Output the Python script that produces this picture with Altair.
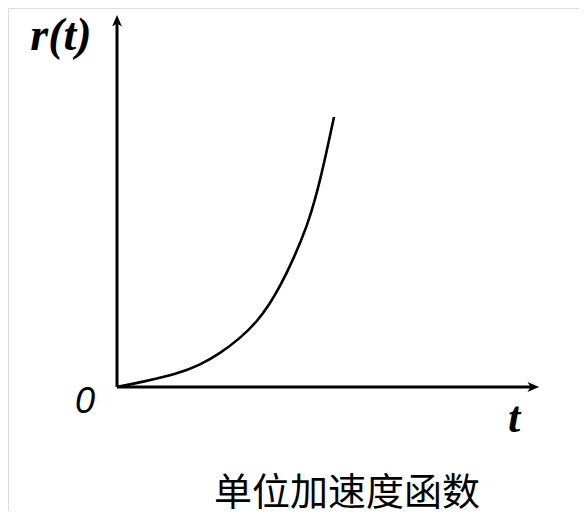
import altair as alt
import pandas as pd

# curve r(t) values (arbitrary units)
t_vals = [0.0, 0.65, 1.5, 2.075, 2.575, 3.075, 3.5, 3.825, 4.075, 4.4, 4.75, 5.0, 5.25, 5.425]
r_vals = [0.0, 0.13, 0.325, 0.55, 0.84, 1.215, 1.63, 2.09, 2.51, 3.175, 4.01, 4.84, 5.925, 6.75]

t_axis_end = 10.4
r_axis_end = 9.15

x_dom = [-2.725, 11.55]
y_dom = [-3.1, 9.475]

xs = alt.Scale(domain=x_dom, nice=False, zero=False)
ys = alt.Scale(domain=y_dom, nice=False, zero=False)

curve_df = pd.DataFrame({"t": t_vals, "r": r_vals})
axes_df = pd.DataFrame({"t": [0, 0], "t2": [t_axis_end, 0], "r": [0, 0], "r2": [0, r_axis_end]})
arrow_x_df = pd.DataFrame({"t": [t_axis_end], "r": [0]})
arrow_y_df = pd.DataFrame({"t": [0], "r": [r_axis_end]})

axes = alt.Chart(axes_df).mark_rule(color="black", strokeWidth=3).encode(
    x=alt.X("t:Q", scale=xs, axis=None), x2="t2:Q",
    y=alt.Y("r:Q", scale=ys, axis=None), y2="r2:Q",
)

curve = alt.Chart(curve_df).mark_line(color="black", strokeWidth=2.6, interpolate="basis").encode(
    x=alt.X("t:Q", scale=xs, axis=None),
    y=alt.Y("r:Q", scale=ys, axis=None),
)

arrow_right = alt.Chart(arrow_x_df).mark_point(
    shape="M1,0 L-0.9,-0.8 L-0.4,0 L-0.9,0.8 Z", filled=True, color="black", opacity=1, size=150
).encode(x=alt.X("t:Q", scale=xs, axis=None), y=alt.Y("r:Q", scale=ys, axis=None))

arrow_up = alt.Chart(arrow_y_df).mark_point(
    shape="M0,-1 L-0.8,0.9 L0,0.4 L0.8,0.9 Z", filled=True, color="black", opacity=1, size=150
).encode(x=alt.X("t:Q", scale=xs, axis=None), y=alt.Y("r:Q", scale=ys, axis=None))

lbl_r = alt.Chart(pd.DataFrame({"s": ["r(t)"]})).mark_text(
    font="Liberation Serif", fontSize=46, fontWeight="bold", fontStyle="italic",
    align="center", baseline="alphabetic", color="black"
).encode(text="s:N", x=alt.value(53), y=alt.value(42))

lbl_0 = alt.Chart(pd.DataFrame({"s": ["0"]})).mark_text(
    font="Liberation Sans", fontSize=36, fontStyle="italic",
    align="center", baseline="alphabetic", color="black"
).encode(text="s:N", x=alt.value(77), y=alt.value(405))

lbl_t = alt.Chart(pd.DataFrame({"s": ["t"]})).mark_text(
    font="Liberation Serif", fontSize=44, fontWeight="bold", fontStyle="italic",
    align="center", baseline="alphabetic", color="black"
).encode(text="s:N", x=alt.value(506), y=alt.value(424))

title = alt.Chart(pd.DataFrame({"s": ["单位加速度函数"]})).mark_text(
    font="Noto Sans CJK SC", fontSize=38,
    align="center", baseline="middle", color="black"
).encode(text="s:N", x=alt.value(339), y=alt.value(486))

chart = alt.layer(axes, curve, arrow_right, arrow_up, lbl_r, lbl_0, lbl_t, title).properties(
    width=571, height=503, autosize=alt.AutoSizeParams(type="none"), padding=0
).configure_view(stroke="transparent", strokeWidth=0).configure(background="white")

chart.save("out.html", embed_options={"renderer": "svg", "actions": False})
